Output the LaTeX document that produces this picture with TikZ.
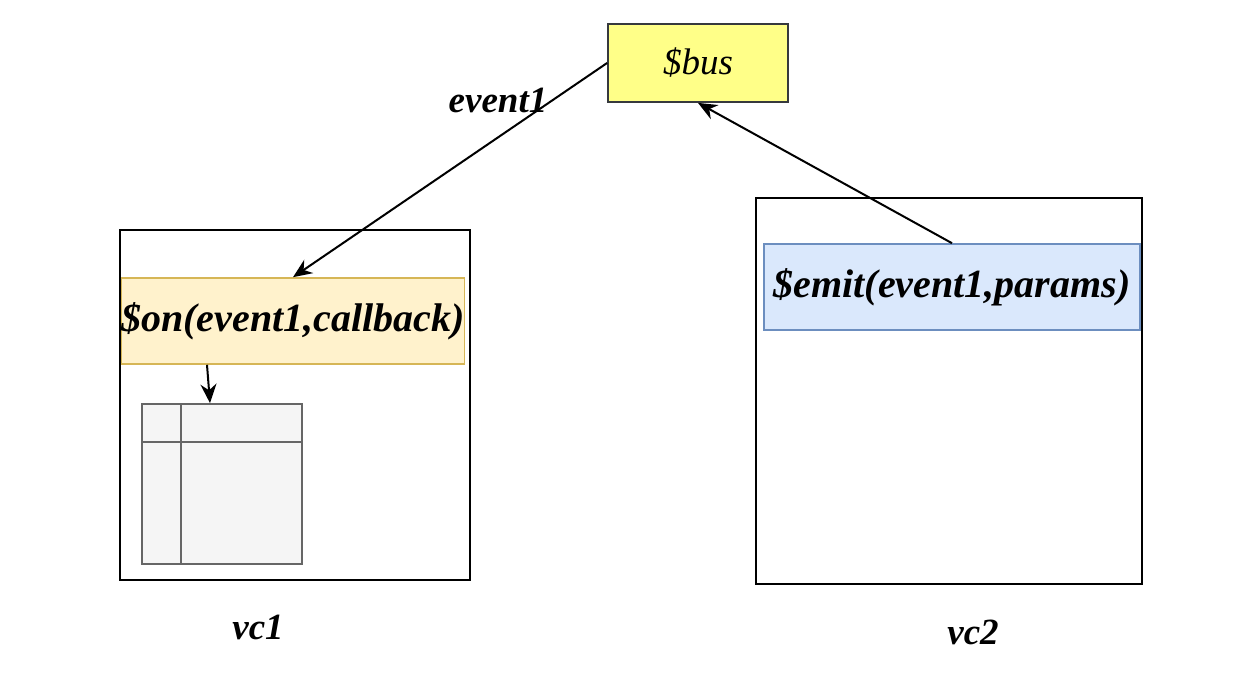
\documentclass[tikz,border=0pt]{standalone}
\usepackage{fontspec}
\setmainfont{Liberation Serif}
\usepackage{tikz}
\usetikzlibrary{arrows.meta}
\usetikzlibrary{positioning}
\usepackage{xcolor}

\definecolor{busfill}{RGB}{255,255,136}
\definecolor{busline}{RGB}{54,57,61}
\definecolor{onfill}{RGB}{255,242,204}
\definecolor{online}{RGB}{214,182,86}
\definecolor{emitfill}{RGB}{218,232,252}
\definecolor{emitline}{RGB}{108,142,191}
\definecolor{tblfill}{RGB}{245,245,245}
\definecolor{tblline}{RGB}{102,102,102}

\tikzset{
	comp/.style={draw=black, line width=1.8pt, inner sep=0pt},
	call/.style={line width=1.6pt, inner sep=0pt, minimum height=86pt,
		font=\fontsize{40}{42}\selectfont\bfseries\itshape},
	lbl/.style={font=\fontsize{37}{40}\selectfont\bfseries\itshape},
	flow/.style={-{Stealth[length=19pt,width=16pt]}, line width=2pt}
}

\begin{document}
\begin{tikzpicture}[x=1pt, y=-1pt]
	\useasboundingbox (0,0) rectangle (1256,684);
	\node[draw=busline, fill=busfill, line width=1.8pt, inner sep=0pt,
		minimum width=180pt, minimum height=78pt,
		font=\fontsize{37}{40}\selectfont\itshape] (bus) at (698,63) {\$bus};
	
	\node[comp, minimum width=350pt, minimum height=350pt] (vc1) at (295,405) {};
	\node[call, draw=online, fill=onfill, minimum width=342pt] (on) at (293,321) {\raisebox{-3pt}{\$on(event1,callback)}};
	\node[draw=tblline, fill=tblfill, line width=1.8pt, inner sep=0pt,
		minimum size=160pt] (tbl) at (222,484) {};
	\draw[tblline, line width=1.8pt] ([yshift=-39pt]tbl.north west) -- ([yshift=-39pt]tbl.north east);
	\draw[tblline, line width=1.8pt] ([xshift=40pt]tbl.north west) -- ([xshift=40pt]tbl.south west);
	\node[lbl] (vc1name) at (258,627) {vc1};
	
	\node[comp, minimum width=386pt, minimum height=386pt] (vc2) at (949,391) {};
	\node[call, draw=emitline, fill=emitfill, minimum width=376pt] (emit) at (952,287) {\raisebox{-3pt}{\$emit(event1,params)}};
	\node[lbl] (vc2name) at (973,632) {vc2};
	
	\draw[flow] (bus.west) -- (on.north);
	\node[lbl] (evt) at (498,100) {event1};
	\draw[flow] (emit.north) -- (bus.south);
	\draw[flow] ([xshift=-86pt]on.south) -- ([xshift=-12pt]tbl.north);
\end{tikzpicture}
\end{document}
